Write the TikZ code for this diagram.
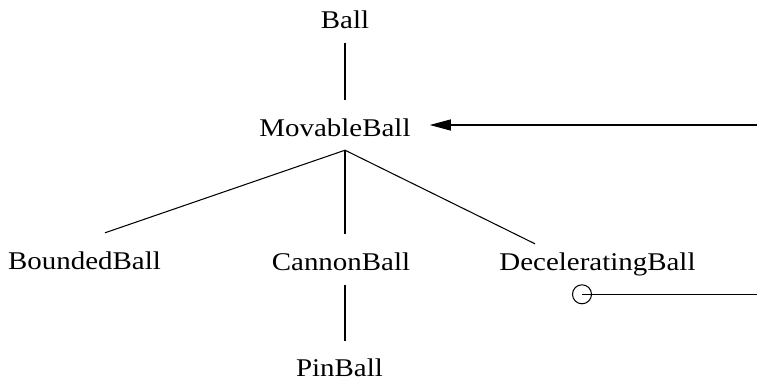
\documentclass[tikz,border=0pt]{standalone}
\usepackage{fontspec}
\setmainfont{Liberation Serif}[FakeStretch=1.135]
\usetikzlibrary{arrows.meta}
\begin{document}
\begin{tikzpicture}[x=1pt,y=-1pt,
  cls/.style={anchor=base, inner sep=4pt, text height=32pt, text depth=10pt,
              font=\fontsize{25.5}{30}\selectfont},
  link/.style={line width=1.05pt},
  feed/.style={line width=1.05pt, -{Triangle[length=21pt,width=11pt]}},
  port/.style={circle, draw, line width=1.05pt, minimum size=19pt, inner sep=0pt}]
  \useasboundingbox (0,0) rectangle (757,383);

  % class names
  \node[cls] (Ball)  at (345,28.3)   {Ball};
  \node[cls] (Mov)   at (335,136)    {MovableBall};
  \node[cls] (Bnd)   at (84.5,269)   {BoundedBall};
  \node[cls] (Can)   at (341,270.5)  {CannonBall};
  \node[cls] (Dec)   at (597.5,270)  {DeceleratingBall};
  \node[cls] (Pin)   at (339.5,376.7){PinBall};

  % junction under MovableBall and the two incoming feeds
  \coordinate (hub) at (Mov.south -| Ball.center);
  \coordinate (feedA) at (757,125);
  \node[port] (tail) at (582,294.3) {};
  \coordinate (feedB) at (757,294.3);

  % inheritance links
  \draw[link] (Ball.south) -- (Mov.north -| Ball.south);
  \draw[link] (hub) -- ([xshift=20.5pt]Bnd.north);
  \draw[link] (hub) -- (Can.north -| hub);
  \draw[link] (hub) -- ([xshift=-62.5pt,yshift=-10pt]Dec.north);
  \draw[link] (Can.south -| hub) -- (Pin.north -| hub);

  % associations
  \draw[feed, shorten >=15pt] (feedA) -- (Mov.east);
  \draw[link] (tail.center) -- (feedB);
\end{tikzpicture}
\end{document}
